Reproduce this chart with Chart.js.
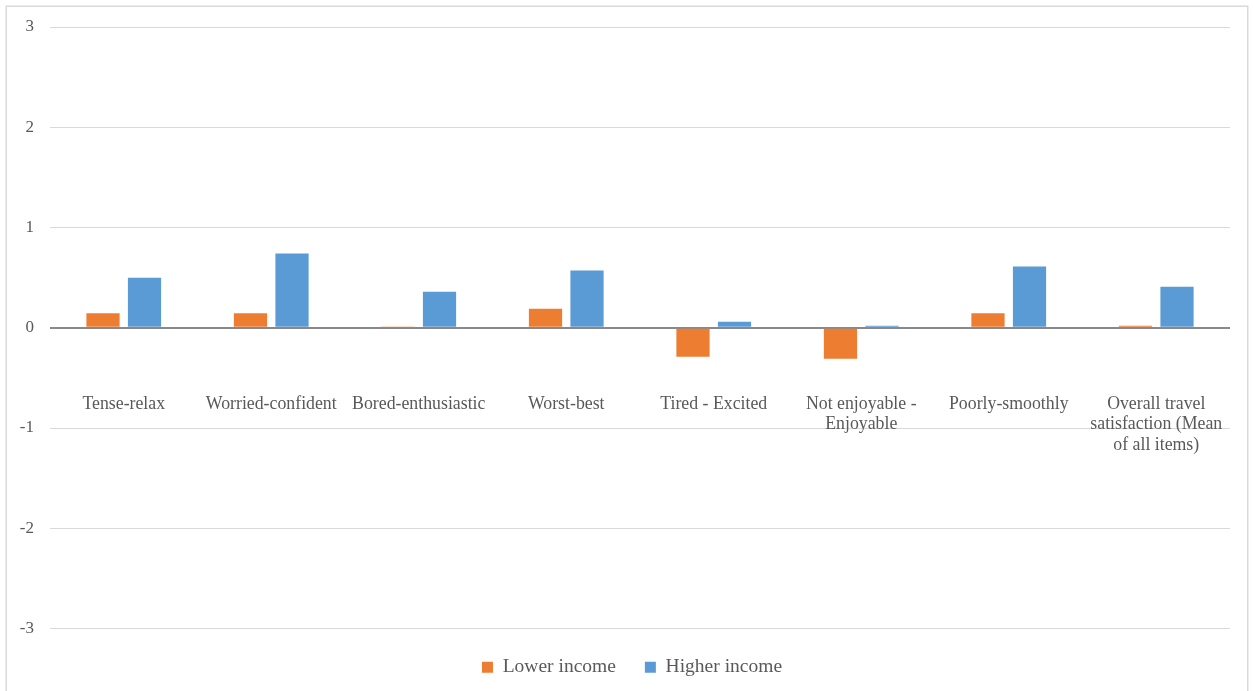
<!DOCTYPE html>
<html>
<head>
<meta charset="utf-8">
<script src="https://cdn.jsdelivr.net/npm/chart.js@4"></script>
<style>
html,body{margin:0;padding:0;background:#fff;}
canvas{display:block;}
</style>
</head>
<body>
<canvas id="c" width="1253" height="691"></canvas>
<script>
const categories = [
  "Tense-relax",
  "Worried-confident",
  "Bored-enthusiastic",
  "Worst-best",
  "Tired - Excited",
  ["Not enjoyable -", "Enjoyable"],
  "Poorly-smoothly",
  ["Overall travel", "satisfaction (Mean", "of all items)"]
];
const lowerIncome = [0.145, 0.145, 0.005, 0.19, -0.29, -0.31, 0.145, 0.02];
const higherIncome = [0.50, 0.74, 0.36, 0.57, 0.06, 0.02, 0.61, 0.41];
const seriesNames = ["Lower income", "Higher income"];
const yMin = -3, yMax = 3, yStep = 1;

const frame = {
  id: 'frame',
  beforeDraw(chart) {
    const ctx = chart.ctx;
    ctx.save();
    ctx.fillStyle = '#fff';
    ctx.fillRect(0, 0, chart.width, chart.height);
    ctx.strokeStyle = '#d9d9d9';
    ctx.lineWidth = 1.5;
    ctx.strokeRect(6.25, 6.25, 1241.5, 720);
    ctx.restore();
  },
  afterLayout(chart) {
    if (chart.legend) { chart.legend.left += 34; }
  }
};

new Chart(document.getElementById('c'), {
  type: 'bar',
  data: {
    labels: categories,
    datasets: [
      { label: seriesNames[0], data: lowerIncome, backgroundColor: '#ED7D31',
        categoryPercentage: 0.563, barPercentage: 0.8 },
      { label: seriesNames[1], data: higherIncome, backgroundColor: '#5B9BD5',
        categoryPercentage: 0.563, barPercentage: 0.8 }
    ]
  },
  options: {
    responsive: false,
    animation: false,
    devicePixelRatio: 1,
    layout: { padding: { top: 27, right: 23, left: 0, bottom: 4 } },
    plugins: {
      tooltip: { enabled: false },
      legend: {
        position: 'bottom',
        labels: {
          color: '#595959',
          font: { family: 'Liberation Serif', size: 19.5 },
          boxWidth: 11, boxHeight: 11,
          padding: 29
        }
      }
    },
    scales: {
      x: {
        position: { y: 0 },
        afterFit(scale) { scale.paddingLeft = 0; scale.paddingRight = 0; },
        grid: { display: false, drawTicks: false },
        border: { display: false },
        ticks: {
          color: '#595959',
          font: { family: 'Liberation Serif', size: 17.8, lineHeight: 1.15 },
          padding: 66,
          maxRotation: 0, minRotation: 0, autoSkip: false
        }
      },
      y: {
        min: yMin, max: yMax,
        afterFit(scale) { scale.width = 50; },
        grid: {
          drawTicks: false,
          color: (c) => c.tick && c.tick.value === 0 ? '#898989' : '#d9d9d9',
          lineWidth: (c) => c.tick && c.tick.value === 0 ? 2 : 1
        },
        border: { display: false },
        ticks: {
          stepSize: yStep,
          color: '#595959',
          font: { family: 'Liberation Serif', size: 17 },
          padding: 16
        }
      }
    }
  },
  plugins: [frame]
});
</script>
</body>
</html>
